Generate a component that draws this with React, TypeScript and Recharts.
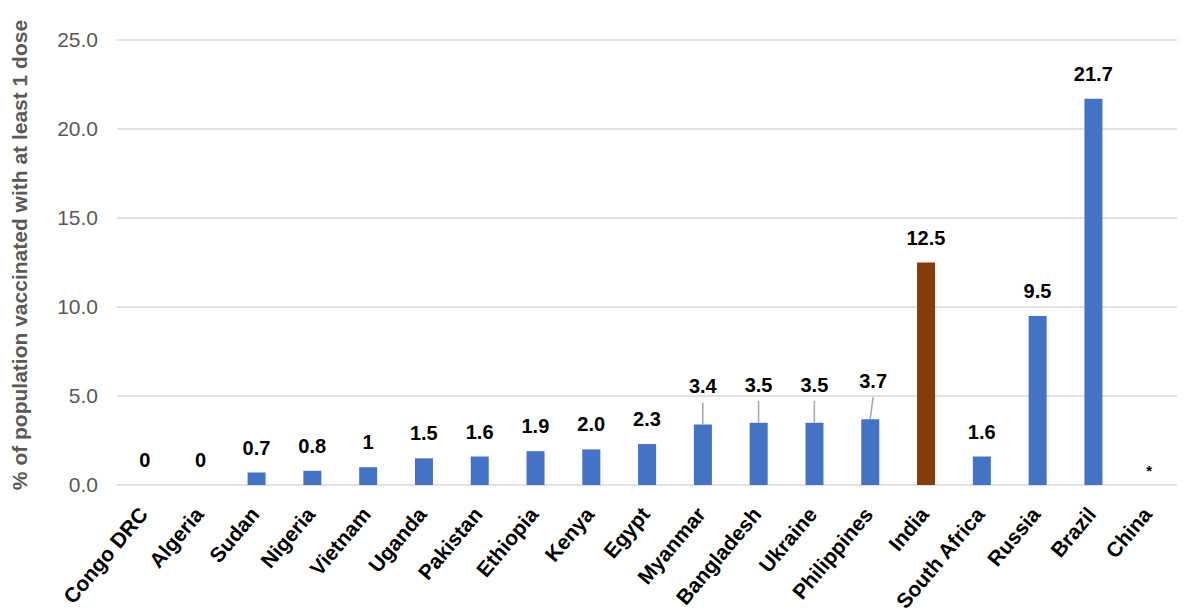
import { ComposedChart, Bar, Line, XAxis, YAxis, CartesianGrid, Cell, LabelList } from 'recharts';

const countries = [
  'Congo DRC', 'Algeria', 'Sudan', 'Nigeria', 'Vietnam', 'Uganda', 'Pakistan', 'Ethiopia', 'Kenya', 'Egypt',
  'Myanmar', 'Bangladesh', 'Ukraine', 'Philippines', 'India', 'South Africa', 'Russia', 'Brazil', 'China',
];
const vaccinated = [0, 0, 0.7, 0.8, 1, 1.5, 1.6, 1.9, 2.0, 2.3, 3.4, 3.5, 3.5, 3.7, 12.5, 1.6, 9.5, 21.7, 0];
const valueLabels = ['0', '0', '0.7', '0.8', '1', '1.5', '1.6', '1.9', '2.0', '2.3', '3.4', '3.5', '3.5', '3.7', '12.5', '1.6', '9.5', '21.7', '*'];
const yTicks = [0, 5, 10, 15, 20, 25];

// labels that sit higher with a leader line
const callouts = ['Myanmar', 'Bangladesh', 'Ukraine', 'Philippines'];
const highlight = 'India';

const FONT = '"Liberation Sans", Arial, sans-serif';

const chartData = countries.map((c, i) => ({ country: c, value: vaccinated[i], label: valueLabels[i] }));

function CountryTick(props: any) {
  const { x, y, payload } = props;
  return (
    <g transform={`translate(${x + 4},${y + 22})`}>
      <text
        transform="rotate(-50)"
        textAnchor="end"
        fontFamily={FONT}
        fontWeight="bold"
        fontSize={21}
        fill="#000"
      >
        {payload.value}
      </text>
    </g>
  );
}

// drawn on an invisible line so that zero values get their labels too
function ValueLabel(props: any) {
  const { x, y, index } = props;
  const name = countries[index];
  const text = valueLabels[index];
  if (text === '*') {
    return (
      <text x={x} y={y - 9} textAnchor="middle" fontFamily={FONT} fontWeight="bold" fontSize={15} fill="#000">
        *
      </text>
    );
  }
  if (callouts.includes(name)) {
    const shift = name === 'Philippines' ? 3 : 0;
    return (
      <g>
        <line x1={x + shift} y1={y - 22} x2={x} y2={y} stroke="#a6a6a6" strokeWidth={1.5} />
        <text x={x + shift} y={y - 31} textAnchor="middle" fontFamily={FONT} fontWeight="bold" fontSize={20} fill="#000">
          {text}
        </text>
      </g>
    );
  }
  return (
    <text x={x} y={y - 18} textAnchor="middle" fontFamily={FONT} fontWeight="bold" fontSize={20} fill="#000">
      {text}
    </text>
  );
}

export default function App() {
  return (
    <div style={{ position: 'absolute', left: 0, top: 0, width: 1193, height: 616, background: '#fff' }}>
      <ComposedChart
        width={1193}
        height={616}
        data={chartData}
        margin={{ top: 40, right: 16, left: 0, bottom: 0 }}
        barCategoryGap={0}
      >
        <CartesianGrid vertical={false} stroke="#d9d9d9" strokeWidth={1.5} />
        <XAxis
          dataKey="country"
          interval={0}
          axisLine={false}
          tickLine={false}
          height={131}
          tick={<CountryTick />}
        />
        <YAxis
          domain={[0, 25]}
          ticks={yTicks}
          width={117}
          axisLine={false}
          tickLine={false}
          tickMargin={13}
          tickFormatter={(v: number) => v.toFixed(1)}
          tick={{ fill: '#595959', fontSize: 21, fontFamily: FONT }}
        />
        <Bar dataKey="value" barSize={18} isAnimationActive={false}>
          {chartData.map((d) => (
            <Cell key={d.country} fill={d.country === highlight ? '#843c0c' : '#4472c4'} />
          ))}
        </Bar>
        <Line
          dataKey="value"
          stroke="none"
          dot={false}
          activeDot={false}
          legendType="none"
          isAnimationActive={false}
        >
          <LabelList dataKey="label" content={<ValueLabel />} />
        </Line>
        <text
          x={27}
          y={255}
          transform="rotate(-90, 27, 255)"
          textAnchor="middle"
          fontFamily={FONT}
          fontWeight="bold"
          fontSize={21}
          fill="#595959"
        >
          % of population vaccinated with at least 1 dose
        </text>
      </ComposedChart>
    </div>
  );
}
